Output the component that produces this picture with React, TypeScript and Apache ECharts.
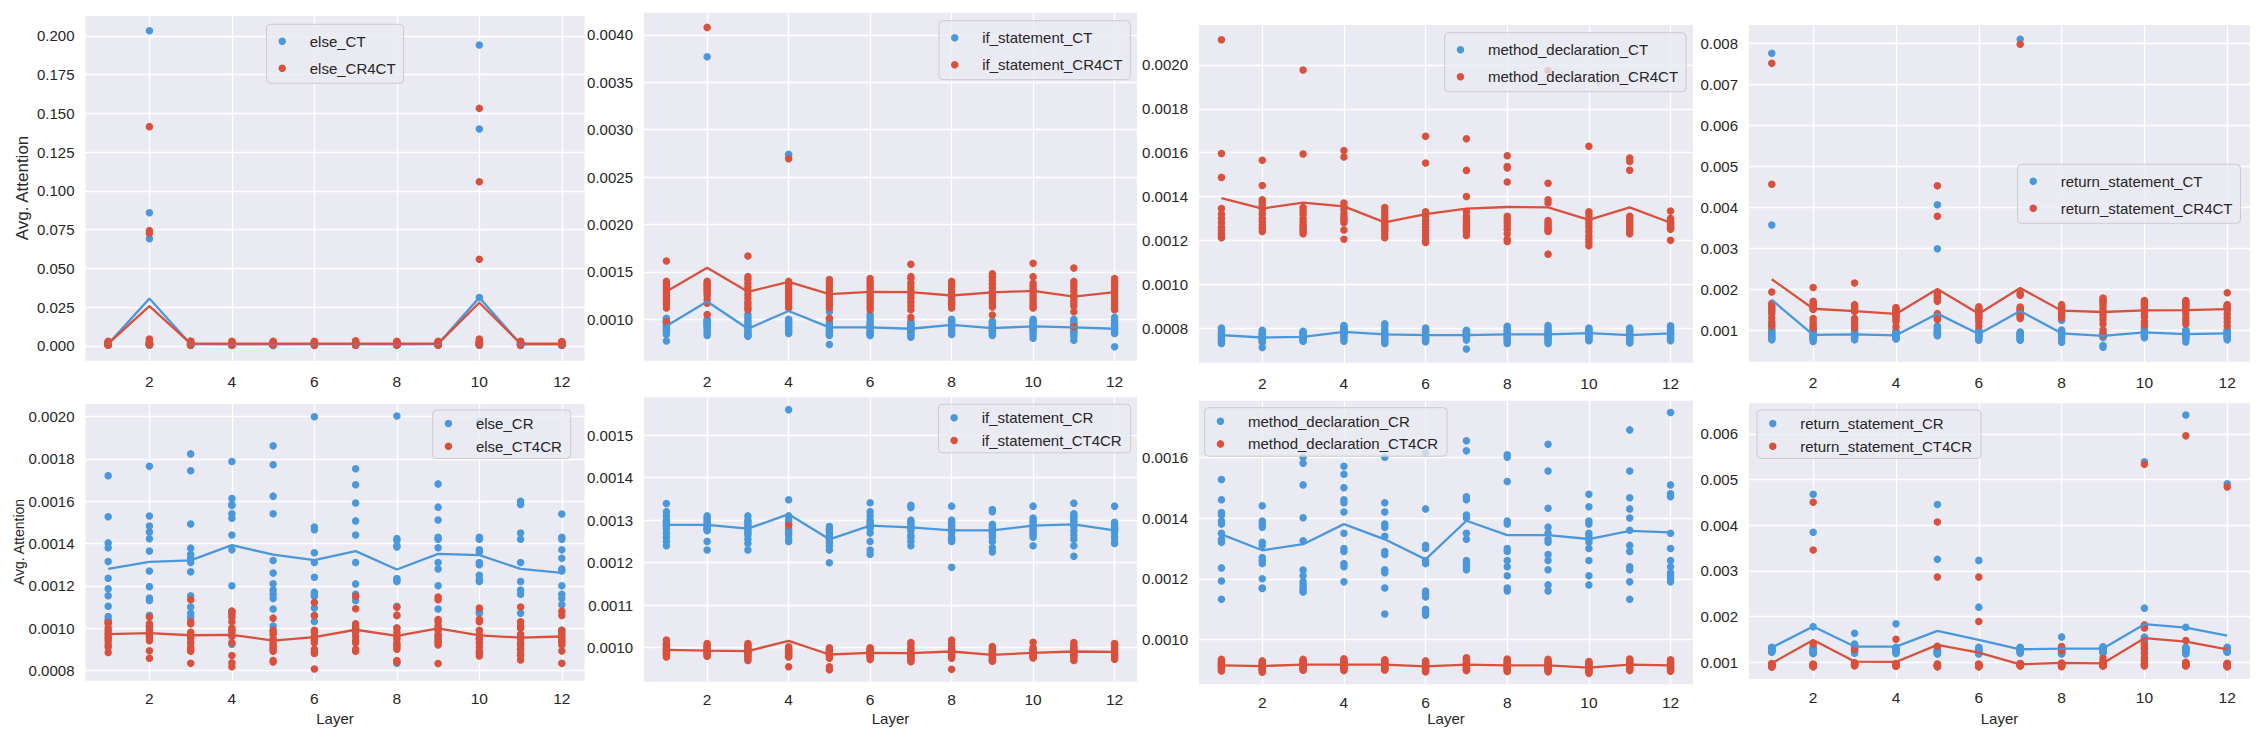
import React, { useEffect, useRef } from "react";
import * as echarts from "echarts";

// ---------------- DATA (values in units of 1e-6) ----------------
const U = 1e-6;
const LAYERS = [1, 2, 3, 4, 5, 6, 7, 8, 9, 10, 11, 12];
const X_TICKS = [2, 4, 6, 8, 10, 12];

const NAMES = [
  ["else_CT", "else_CR4CT"],
  ["if_statement_CT", "if_statement_CR4CT"],
  ["method_declaration_CT", "method_declaration_CR4CT"],
  ["return_statement_CT", "return_statement_CR4CT"],
  ["else_CR", "else_CT4CR"],
  ["if_statement_CR", "if_statement_CT4CR"],
  ["method_declaration_CR", "method_declaration_CT4CR"],
  ["return_statement_CR", "return_statement_CT4CR"],
];

// Panel 1: else CT / CR4CT
const elseCT = [
  [2600, 2100, 1800, 1500, 1300, 1100, 950, 850, 750, 650, 550, 450],
  [203400, 86000, 69200, 2000, 1500, 1200, 1000, 900, 800, 700, 600, 500],
  [2500, 2000, 1700, 1450, 1250, 1050, 900, 800, 700, 600, 500, 400],
  [2300, 1900, 1600, 1400, 1200, 1000, 900, 800, 700, 600, 500, 400],
  [2200, 1800, 1500, 1300, 1100, 900, 800, 700, 600, 500, 400, 300],
  [2400, 2000, 1700, 1400, 1200, 1000, 900, 800, 700, 600, 500, 400],
  [2500, 2000, 1700, 1450, 1250, 1050, 900, 800, 700, 600, 500, 400],
  [2400, 1950, 1650, 1400, 1200, 1000, 900, 800, 700, 600, 500, 400],
  [2600, 2100, 1800, 1500, 1300, 1100, 950, 850, 750, 650, 550, 450],
  [194200, 140000, 31200, 2000, 1500, 1200, 1000, 900, 800, 700, 600, 500],
  [2400, 2000, 1700, 1400, 1200, 1000, 900, 800, 700, 600, 500, 400],
  [2300, 1900, 1600, 1400, 1200, 1000, 900, 800, 700, 600, 500, 400],
];
const elseCR4CT = [
  [3000, 2500, 2100, 1800, 1600, 1400, 1200, 1000, 900, 800, 700, 600],
  [141500, 74400, 72700, 4500, 3500, 2800, 2200, 1800, 1500, 1200, 1000, 800],
  [3200, 2600, 2200, 1900, 1600, 1400, 1200, 1000, 900, 800, 700, 600],
  [3100, 2500, 2100, 1800, 1600, 1400, 1200, 1000, 900, 800, 700, 600],
  [3000, 2500, 2100, 1800, 1600, 1400, 1200, 1000, 900, 800, 700, 600],
  [3100, 2600, 2200, 1800, 1600, 1400, 1200, 1000, 900, 800, 700, 600],
  [3300, 2700, 2200, 1900, 1600, 1400, 1200, 1000, 900, 800, 700, 600],
  [3100, 2500, 2100, 1800, 1600, 1400, 1200, 1000, 900, 800, 700, 600],
  [3000, 2500, 2100, 1800, 1600, 1400, 1200, 1000, 900, 800, 700, 600],
  [153300, 106000, 55900, 4500, 3500, 2800, 2200, 1800, 1500, 1200, 1000, 800],
  [3000, 2500, 2100, 1800, 1600, 1400, 1200, 1000, 900, 800, 700, 600],
  [2900, 2400, 2000, 1700, 1500, 1300, 1100, 950, 850, 750, 650, 550],
];
const elseCTMean = [1200, 30600, 1150, 1100, 1000, 1150, 1150, 1100, 1200, 31200, 1100, 1100];
const elseCR4CTMean = [1500, 25700, 1550, 1500, 1500, 1500, 1550, 1500, 1500, 27900, 1500, 1450];

// Panel 2: if_statement CT / CR4CT
const ifCT = [
  [1010, 995, 980, 965, 950, 935, 920, 905, 890, 870, 840, 770],
  [3770, 1000, 990, 975, 960, 950, 940, 930, 910, 890, 860, 830],
  [1050, 1020, 990, 960, 940, 920, 900, 880, 860, 840, 830, 820],
  [2740, 1000, 985, 970, 955, 940, 925, 910, 895, 880, 865, 850],
  [1080, 1000, 970, 950, 930, 910, 890, 870, 850, 840, 830, 734],
  [1050, 1020, 990, 960, 940, 920, 900, 880, 860, 850, 840, 830],
  [980, 960, 945, 930, 915, 900, 890, 880, 870, 850, 830, 810],
  [1000, 990, 975, 960, 950, 940, 930, 920, 900, 880, 860, 840],
  [980, 965, 950, 935, 920, 905, 895, 885, 870, 855, 840, 830],
  [1000, 985, 970, 955, 940, 925, 910, 895, 880, 860, 830, 800],
  [1000, 975, 955, 940, 925, 910, 895, 880, 865, 850, 820, 780],
  [1020, 990, 970, 950, 935, 920, 905, 890, 875, 860, 850, 710],
];
const ifCR4CT = [
  [1615, 1400, 1370, 1340, 1310, 1280, 1250, 1220, 1190, 1160, 1120, 975],
  [4080, 1400, 1380, 1360, 1340, 1320, 1300, 1280, 1250, 1210, 1170, 1050],
  [1668, 1450, 1420, 1380, 1340, 1300, 1260, 1220, 1180, 1150, 1120, 1100],
  [2694, 1400, 1380, 1350, 1320, 1290, 1260, 1230, 1200, 1170, 1140, 1120],
  [1420, 1390, 1360, 1330, 1300, 1270, 1240, 1210, 1180, 1150, 1120, 1010],
  [1430, 1400, 1370, 1340, 1310, 1280, 1250, 1220, 1190, 1160, 1130, 1100],
  [1580, 1450, 1430, 1380, 1340, 1300, 1260, 1220, 1180, 1140, 1100, 1020],
  [1400, 1370, 1340, 1310, 1280, 1250, 1230, 1210, 1190, 1170, 1150, 1120],
  [1480, 1450, 1410, 1370, 1330, 1290, 1250, 1220, 1190, 1160, 1130, 1046],
  [1590, 1450, 1380, 1350, 1320, 1290, 1260, 1230, 1200, 1170, 1140, 1120],
  [1540, 1400, 1370, 1340, 1300, 1260, 1230, 1200, 1170, 1140, 1080, 920],
  [1430, 1400, 1370, 1340, 1310, 1280, 1250, 1220, 1190, 1160, 1130, 1100],
];
const ifCTMean = [929, 1187, 900, 1088, 915, 915, 900, 940, 907, 925, 915, 900];
const ifCR4CTMean = [1294, 1543, 1290, 1394, 1266, 1290, 1287, 1251, 1283, 1300, 1240, 1287];

// Panel 3: method_declaration CT / CR4CT
const mdCT = [
  [800, 795, 785, 775, 770, 765, 760, 755, 750, 745, 740, 730],
  [790, 780, 775, 770, 765, 760, 755, 750, 745, 740, 735, 711],
  [785, 780, 775, 770, 765, 760, 755, 750, 748, 745, 742, 740],
  [812, 805, 800, 795, 790, 785, 780, 775, 770, 760, 750, 740],
  [820, 810, 795, 785, 778, 770, 765, 760, 752, 745, 738, 730],
  [800, 795, 788, 780, 772, 766, 760, 755, 750, 746, 742, 738],
  [790, 785, 780, 776, 772, 770, 767, 763, 760, 755, 745, 704],
  [808, 800, 792, 785, 778, 771, 765, 760, 754, 748, 740, 730],
  [812, 800, 790, 783, 776, 770, 764, 758, 752, 745, 738, 730],
  [800, 795, 790, 784, 778, 773, 768, 763, 758, 752, 746, 742],
  [800, 792, 785, 778, 771, 765, 759, 754, 749, 744, 738, 732],
  [810, 803, 796, 789, 782, 776, 770, 765, 760, 755, 748, 742],
];
const mdCR4CT = [
  [2115, 1596, 1487, 1345, 1320, 1300, 1280, 1260, 1245, 1230, 1220, 1212],
  [1565, 1450, 1385, 1375, 1360, 1340, 1320, 1300, 1285, 1270, 1255, 1240],
  [1977, 1594, 1350, 1335, 1320, 1300, 1285, 1270, 1260, 1250, 1240, 1230],
  [1610, 1580, 1370, 1355, 1340, 1320, 1305, 1290, 1280, 1247, 1205, 1300],
  [1350, 1335, 1320, 1305, 1290, 1280, 1270, 1260, 1250, 1240, 1225, 1212],
  [1675, 1553, 1330, 1310, 1290, 1275, 1260, 1245, 1230, 1215, 1200, 1190],
  [1663, 1519, 1400, 1330, 1310, 1295, 1280, 1270, 1260, 1250, 1240, 1222],
  [1586, 1537, 1530, 1466, 1310, 1295, 1280, 1265, 1250, 1230, 1205, 1195],
  [1973, 1460, 1385, 1370, 1290, 1280, 1270, 1262, 1255, 1245, 1240, 1137],
  [1629, 1330, 1320, 1305, 1290, 1275, 1260, 1240, 1220, 1205, 1190, 1175],
  [1575, 1560, 1520, 1310, 1300, 1290, 1280, 1270, 1260, 1250, 1240, 1230],
  [1334, 1300, 1290, 1285, 1280, 1275, 1270, 1265, 1260, 1255, 1250, 1200],
];
const mdCTMean = [768, 757, 760, 783, 771, 768, 768, 771, 771, 777, 768, 776];
const mdCR4CTMean = [1393, 1345, 1372, 1355, 1282, 1320, 1345, 1352, 1350, 1293, 1350, 1280];

// Panel 4: return_statement CT / CR4CT
const rsCT = [
  [7755, 3563, 1150, 1050, 1000, 950, 920, 880, 850, 820, 790, 760],
  [1050, 1000, 960, 930, 900, 880, 860, 840, 820, 800, 770, 720],
  [1000, 970, 950, 930, 910, 890, 870, 850, 830, 810, 790, 760],
  [980, 960, 940, 920, 900, 880, 860, 840, 820, 810, 800, 780],
  [4059, 2985, 1100, 1060, 1020, 990, 960, 940, 920, 900, 880, 860],
  [1000, 980, 960, 940, 920, 900, 880, 860, 840, 820, 790, 750],
  [8097, 950, 930, 910, 890, 870, 850, 830, 810, 790, 770, 750],
  [1240, 1000, 970, 950, 930, 910, 890, 870, 850, 830, 790, 700],
  [920, 910, 900, 890, 880, 870, 860, 850, 840, 820, 620, 580],
  [1080, 1050, 1020, 990, 960, 940, 920, 900, 880, 860, 840, 810],
  [1000, 980, 960, 940, 920, 900, 880, 860, 840, 820, 790, 710],
  [1000, 985, 965, 945, 925, 905, 885, 865, 845, 825, 800, 760],
];
const rsCR4CT = [
  [7510, 4557, 1930, 1650, 1600, 1550, 1500, 1450, 1400, 1300, 1200, 1100],
  [2040, 1700, 1650, 1620, 1590, 1560, 1530, 1500, 1280, 1200, 1120, 1050],
  [2150, 1620, 1590, 1560, 1530, 1500, 1470, 1450, 1280, 1200, 1120, 1050],
  [1550, 1520, 1490, 1460, 1430, 1400, 1370, 1340, 1300, 1250, 1200, 1080],
  [4523, 3776, 1900, 1850, 1800, 1750, 1700, 1400, 1350, 1300, 1280, 1260],
  [1570, 1540, 1510, 1480, 1450, 1420, 1390, 1360, 1320, 1280, 1200, 1100],
  [7975, 1900, 1850, 1560, 1530, 1500, 1470, 1440, 1400, 1360, 1320, 1280],
  [1620, 1590, 1560, 1530, 1500, 1470, 1440, 1410, 1380, 1350, 1320, 1300],
  [1780, 1740, 1700, 1650, 1580, 1500, 1420, 1340, 1250, 1150, 1000, 880],
  [1720, 1690, 1660, 1630, 1600, 1560, 1520, 1480, 1400, 1320, 1200, 1120],
  [1720, 1690, 1660, 1630, 1590, 1550, 1510, 1470, 1400, 1300, 1220, 1150],
  [1910, 1620, 1600, 1580, 1560, 1540, 1520, 1500, 1400, 1300, 1200, 1100],
];
const rsCTMean = [1736, 880, 896, 872, 1400, 904, 1464, 920, 856, 944, 900, 920];
const rsCR4CTMean = [2240, 1520, 1464, 1392, 2000, 1400, 2024, 1472, 1440, 1480, 1488, 1512];

// Panel 5: else CR / CT4CR
const elseCR = [
  [1721, 1527, 1403, 1380, 1315, 1236, 1186, 1153, 1103, 1055, 1040, 1030],
  [1765, 1530, 1483, 1455, 1423, 1364, 1270, 1196, 1142, 1130, 1060, 1010],
  [1824, 1744, 1492, 1378, 1348, 1330, 1310, 1266, 1153, 1100, 1070, 1050],
  [1788, 1613, 1584, 1541, 1520, 1580, 1440, 1370, 1200, 1080, 1060, 924],
  [1862, 1773, 1624, 1541, 1320, 1260, 1210, 1180, 1160, 1140, 1090, 1010],
  [2000, 1478, 1465, 1356, 1310, 1240, 1170, 1160, 1095, 1060, 1031, 1150],
  [1754, 1678, 1592, 1507, 1440, 1310, 1209, 1160, 1150, 1130, 1000, 980],
  [2003, 1423, 1415, 1390, 1384, 1234, 1226, 1220, 1103, 1060, 1000, 833],
  [1682, 1572, 1511, 1430, 1420, 1380, 1310, 1280, 1200, 1090, 1000, 950],
  [1976, 1430, 1420, 1370, 1360, 1310, 1300, 1250, 1230, 1220, 1080, 1070],
  [1600, 1585, 1450, 1420, 1310, 1220, 1180, 1160, 1070, 1000, 970, 950],
  [1540, 1430, 1420, 1370, 1330, 1270, 1200, 1160, 1140, 1110, 990, 1280],
];
const elseCT4CR = [
  [1026, 1020, 1000, 990, 970, 950, 936, 920, 909, 884, 955, 975],
  [1052, 1020, 1010, 1000, 990, 970, 960, 950, 940, 893, 857, 980],
  [1134, 1030, 1020, 980, 960, 950, 930, 910, 900, 890, 833, 970],
  [1079, 1070, 1050, 1030, 1000, 980, 960, 930, 870, 836, 817, 990],
  [1047, 990, 980, 970, 950, 930, 910, 900, 890, 846, 840, 920],
  [1121, 1058, 990, 980, 960, 940, 930, 900, 890, 880, 806, 950],
  [1150, 1091, 1020, 1010, 1000, 980, 960, 940, 930, 900, 890, 990],
  [1098, 1060, 1000, 980, 960, 920, 910, 900, 846, 840, 950, 930],
  [1147, 1134, 1040, 1030, 1010, 990, 960, 940, 930, 920, 832, 970],
  [1095, 1040, 1030, 990, 970, 950, 930, 910, 890, 880, 868, 950],
  [1100, 1030, 1010, 1000, 970, 950, 920, 900, 880, 870, 849, 930],
  [1079, 1060, 990, 970, 950, 940, 930, 920, 892, 833, 960, 980],
];
const elseCRMean = [1280, 1313, 1320, 1392, 1347, 1321, 1364, 1277, 1351, 1345, 1280, 1261];
const elseCT4CRMean = [971, 976, 966, 968, 941, 957, 992, 963, 998, 965, 955, 960];

// Panel 6: if_statement CR / CT4CR
const ifCR = [
  [1339, 1320, 1310, 1300, 1295, 1290, 1285, 1280, 1270, 1260, 1250, 1240],
  [1310, 1305, 1300, 1295, 1290, 1285, 1282, 1280, 1278, 1275, 1250, 1230],
  [1310, 1300, 1295, 1290, 1285, 1280, 1275, 1270, 1265, 1255, 1245, 1230],
  [1560, 1348, 1310, 1300, 1295, 1290, 1280, 1275, 1270, 1265, 1255, 1250],
  [1285, 1280, 1275, 1270, 1265, 1260, 1255, 1250, 1245, 1240, 1230, 1200],
  [1341, 1320, 1310, 1300, 1295, 1290, 1285, 1280, 1270, 1250, 1230, 1220],
  [1335, 1330, 1300, 1295, 1290, 1285, 1280, 1275, 1265, 1260, 1250, 1240],
  [1333, 1300, 1295, 1290, 1285, 1280, 1275, 1270, 1260, 1255, 1250, 1189],
  [1325, 1320, 1290, 1285, 1280, 1275, 1270, 1265, 1260, 1250, 1235, 1225],
  [1333, 1305, 1300, 1295, 1290, 1285, 1280, 1275, 1270, 1265, 1260, 1240],
  [1340, 1315, 1310, 1305, 1300, 1295, 1285, 1275, 1265, 1255, 1240, 1215],
  [1333, 1295, 1290, 1285, 1282, 1280, 1278, 1275, 1270, 1260, 1250, 1245],
];
const ifCT4CR = [
  [1018, 1010, 1005, 1000, 998, 995, 992, 990, 988, 985, 982, 978],
  [1010, 1005, 1002, 1000, 997, 994, 992, 990, 988, 985, 982, 980],
  [1010, 1006, 1002, 998, 995, 992, 990, 987, 984, 980, 975, 970],
  [1288, 1002, 998, 995, 992, 990, 988, 985, 983, 980, 978, 955],
  [1000, 995, 992, 990, 988, 986, 984, 982, 980, 975, 955, 948],
  [1000, 998, 995, 992, 990, 988, 986, 984, 982, 980, 977, 972],
  [1012, 1008, 1000, 995, 990, 986, 982, 979, 976, 973, 970, 967],
  [1018, 1010, 1002, 998, 995, 992, 990, 987, 984, 980, 975, 949],
  [1003, 997, 993, 990, 987, 984, 981, 978, 975, 972, 970, 968],
  [1013, 1000, 996, 993, 990, 988, 986, 984, 982, 980, 978, 976],
  [1012, 1006, 1001, 997, 994, 991, 988, 985, 982, 979, 975, 970],
  [1010, 1007, 1003, 998, 994, 990, 987, 984, 981, 978, 975, 973],
];
const ifCRMean = [1289, 1289, 1280, 1314, 1255, 1287, 1283, 1276, 1276, 1287, 1290, 1276];
const ifCT4CRMean = [995, 993, 992, 1016, 984, 988, 987, 991, 983, 988, 991, 990];

// Panel 7: method_declaration CR / CT4CR
const mdCR = [
  [1527, 1460, 1418, 1410, 1390, 1380, 1350, 1330, 1320, 1236, 1193, 1133],
  [1440, 1390, 1380, 1370, 1320, 1310, 1270, 1260, 1250, 1200, 1170, 1168],
  [1600, 1580, 1509, 1401, 1325, 1229, 1210, 1190, 1180, 1170, 1160, 1157],
  [1570, 1544, 1500, 1460, 1450, 1420, 1350, 1300, 1290, 1250, 1240, 1190],
  [1600, 1450, 1420, 1380, 1370, 1340, 1290, 1280, 1230, 1220, 1170, 1084],
  [1615, 1430, 1310, 1300, 1260, 1250, 1160, 1150, 1140, 1100, 1090, 1080],
  [1654, 1621, 1470, 1460, 1410, 1400, 1350, 1330, 1260, 1250, 1240, 1230],
  [1608, 1600, 1520, 1390, 1380, 1300, 1290, 1260, 1240, 1210, 1170, 1160],
  [1643, 1555, 1432, 1370, 1350, 1330, 1320, 1280, 1260, 1230, 1180, 1160],
  [1478, 1437, 1390, 1380, 1350, 1340, 1330, 1320, 1300, 1260, 1210, 1180],
  [1690, 1555, 1467, 1430, 1400, 1360, 1310, 1290, 1240, 1230, 1190, 1133],
  [1747, 1509, 1470, 1480, 1350, 1300, 1260, 1240, 1220, 1210, 1200, 1190],
];
const mdCT4CR = [
  [935, 930, 926, 922, 919, 916, 913, 910, 907, 904, 900, 897],
  [930, 926, 922, 918, 915, 912, 909, 906, 903, 900, 897, 893],
  [935, 931, 927, 923, 920, 917, 914, 911, 908, 905, 902, 899],
  [937, 932, 928, 924, 920, 917, 914, 911, 908, 905, 902, 898],
  [934, 930, 926, 923, 920, 917, 914, 911, 908, 905, 902, 900],
  [930, 926, 922, 918, 915, 912, 909, 906, 903, 900, 897, 894],
  [940, 935, 930, 925, 921, 917, 913, 910, 907, 904, 901, 898],
  [936, 931, 926, 922, 918, 915, 912, 909, 906, 903, 899, 895],
  [935, 930, 926, 922, 918, 915, 912, 909, 906, 902, 898, 894],
  [928, 924, 920, 916, 912, 909, 906, 903, 900, 897, 893, 889],
  [936, 932, 928, 924, 920, 917, 914, 911, 908, 905, 902, 898],
  [934, 930, 926, 922, 918, 915, 912, 909, 906, 903, 900, 896],
];
const mdCRMean = [1346, 1294, 1314, 1380, 1330, 1264, 1391, 1344, 1344, 1331, 1358, 1353];
const mdCT4CRMean = [915, 913, 918, 918, 918, 912, 918, 915, 915, 908, 918, 915];

// Panel 8: return_statement CR / CT4CR
const rsCR = [
  [1330, 1320, 1310, 1300, 1290, 1280, 1270, 1260, 1250, 1240, 1230, 1220],
  [4680, 3846, 1780, 1330, 1300, 1280, 1260, 1240, 1220, 1210, 1200, 1190],
  [1636, 1400, 1380, 1360, 1340, 1320, 1300, 1280, 1260, 1240, 1220, 1200],
  [1841, 1330, 1310, 1300, 1290, 1280, 1270, 1260, 1250, 1230, 1210, 1190],
  [4453, 3253, 1330, 1300, 1280, 1260, 1240, 1220, 1210, 1200, 1190, 1180],
  [3231, 2207, 1330, 1300, 1280, 1260, 1240, 1220, 1210, 1200, 1190, 1180],
  [1330, 1320, 1310, 1300, 1290, 1280, 1270, 1260, 1250, 1240, 1220, 1200],
  [1556, 1320, 1310, 1300, 1290, 1280, 1260, 1240, 1220, 1200, 1190, 1180],
  [1340, 1330, 1320, 1310, 1300, 1290, 1280, 1270, 1260, 1240, 1220, 1200],
  [5391, 2185, 1550, 1530, 1500, 1470, 1440, 1400, 1350, 1300, 1250, 1200],
  [6413, 1768, 1330, 1310, 1300, 1290, 1280, 1270, 1250, 1230, 1200, 1180],
  [4906, 1330, 1320, 1300, 1290, 1280, 1270, 1260, 1250, 1240, 1230, 1220],
];
const rsCT4CR = [
  [975, 965, 955, 945, 935, 925, 920, 915, 910, 905, 900, 895],
  [4504, 3458, 1400, 960, 950, 940, 935, 930, 925, 920, 910, 900],
  [1285, 990, 980, 970, 960, 955, 950, 945, 940, 935, 930, 925],
  [1505, 975, 965, 955, 950, 945, 940, 935, 930, 925, 920, 915],
  [4072, 2865, 1350, 960, 950, 940, 935, 930, 925, 920, 910, 900],
  [2865, 1892, 960, 950, 945, 940, 935, 930, 925, 920, 910, 900],
  [975, 970, 965, 960, 955, 950, 945, 940, 935, 930, 925, 920],
  [1344, 1250, 985, 975, 965, 955, 945, 935, 925, 915, 910, 905],
  [1088, 1020, 985, 975, 965, 955, 945, 940, 935, 930, 925, 920],
  [5333, 1819, 1750, 1400, 1300, 1200, 1100, 1050, 1000, 960, 940, 920],
  [5957, 1475, 1000, 980, 970, 960, 950, 945, 940, 935, 930, 920],
  [4840, 980, 970, 960, 950, 945, 940, 935, 930, 920, 910, 900],
];
const rsCRMean = [1322, 1783, 1344, 1344, 1688, 1490, 1285, 1300, 1300, 1834, 1761, 1585];
const rsCT4CRMean = [978, 1490, 1015, 1007, 1380, 1212, 956, 985, 978, 1527, 1454, 1285];

// Y axis ticks (labels) per panel
const Y_TICKS = [
  [0, 0.025, 0.05, 0.075, 0.1, 0.125, 0.15, 0.175, 0.2],
  [0.001, 0.0015, 0.002, 0.0025, 0.003, 0.0035, 0.004],
  [0.0008, 0.001, 0.0012, 0.0014, 0.0016, 0.0018, 0.002],
  [0.001, 0.002, 0.003, 0.004, 0.005, 0.006, 0.007, 0.008],
  [0.0008, 0.001, 0.0012, 0.0014, 0.0016, 0.0018, 0.002],
  [0.001, 0.0011, 0.0012, 0.0013, 0.0014, 0.0015],
  [0.001, 0.0012, 0.0014, 0.0016],
  [0.001, 0.002, 0.003, 0.004, 0.005, 0.006],
];
const Y_DEC = [3, 4, 4, 3, 4, 4, 4, 3];
const Y_RANGE = [
  [-0.0095, 0.2129],
  [0.000563, 0.004235],
  [0.000642, 0.002182],
  [0.000227, 0.008446],
  [0.000751, 0.00206],
  [0.00092, 0.001589],
  [0.000853, 0.001786],
  [0.000634, 0.00667],
];

const CT_DATA = [elseCT, ifCT, mdCT, rsCT, elseCR, ifCR, mdCR, rsCR];
const CR_DATA = [elseCR4CT, ifCR4CT, mdCR4CT, rsCR4CT, elseCT4CR, ifCT4CR, mdCT4CR, rsCT4CR];
const CT_MEAN = [elseCTMean, ifCTMean, mdCTMean, rsCTMean, elseCRMean, ifCRMean, mdCRMean, rsCRMean];
const CR_MEAN = [elseCR4CTMean, ifCR4CTMean, mdCR4CTMean, rsCR4CTMean, elseCT4CRMean, ifCT4CRMean, mdCT4CRMean, rsCT4CRMean];

// ---------------- LAYOUT / STYLE ----------------
const BLUE = "#4A98DB";
const RED = "#D9513D";
const BG = "#EAEAF2";
const TXT = "#262626";
const FONT = "'Liberation Sans', Arial, sans-serif";

const GRIDS = [
  { left: 85.5, top: 16, width: 499, height: 344.7 },
  { left: 644, top: 12.7, width: 493, height: 348 },
  { left: 1199, top: 25, width: 494, height: 337.7 },
  { left: 1749, top: 25, width: 501, height: 336.7 },
  { left: 85.5, top: 404, width: 499, height: 276.7 },
  { left: 644, top: 397.3, width: 493, height: 284.4 },
  { left: 1199, top: 400.7, width: 494, height: 283.6 },
  { left: 1749, top: 403.3, width: 501, height: 275.7 },
];
const LEGENDS = [
  { left: 266.5, top: 24.3 },
  { left: 939, top: 20.7 },
  { left: 1444.7, top: 32.7 },
  { left: 2017.5, top: 164.3 },
  { left: 432.7, top: 410 },
  { left: 938.4, top: 404.3 },
  { left: 1204.7, top: 407.7 },
  { left: 1757, top: 410 },
];

function toPoints(vals: number[][]) {
  const out: number[][] = [];
  vals.forEach((arr, i) => arr.forEach((v) => out.push([LAYERS[i], v * U])));
  return out;
}
function toLine(vals: number[]) {
  return vals.map((v, i) => [LAYERS[i], v * U]);
}

function buildOption() {
  const grid: any[] = [];
  const xAxis: any[] = [];
  const yAxis: any[] = [];
  const legend: any[] = [];
  const series: any[] = [];
  const graphic: any[] = [];

  for (let i = 0; i < 8; i++) {
    const top = i < 4;
    grid.push({ ...GRIDS[i], backgroundColor: BG, show: true, borderWidth: 0, containLabel: false, outerBoundsMode: "none" });
    xAxis.push({
      type: "value",
      gridIndex: i,
      min: 0.45,
      max: 12.55,
      axisLine: { show: false },
      axisTick: { show: false, customValues: X_TICKS },
      axisLabel: {
        customValues: X_TICKS,
        color: TXT,
        fontSize: 15.5,
        fontFamily: FONT,
        margin: top ? 13 : 10,
        formatter: (v: number) => String(v),
      },
      splitLine: { show: true, lineStyle: { color: "#ffffff", width: 1.3 } },
    });
    const dec = Y_DEC[i];
    yAxis.push({
      type: "value",
      gridIndex: i,
      min: Y_RANGE[i][0],
      max: Y_RANGE[i][1],
      axisLine: { show: false },
      axisTick: { show: false, customValues: Y_TICKS[i] },
      axisLabel: {
        customValues: Y_TICKS[i],
        color: TXT,
        fontSize: 15,
        fontFamily: FONT,
        margin: 11,
        formatter: (v: number) => v.toFixed(dec),
      },
      splitLine: { show: true, lineStyle: { color: "#ffffff", width: 1.3 } },
    });
    legend.push({
      left: LEGENDS[i].left,
      top: LEGENDS[i].top,
      orient: "vertical",
      data: NAMES[i],
      icon: "circle",
      itemWidth: 16,
      itemHeight: 7.5,
      itemGap: top ? 9 : 4.7,
      padding: top ? [8, 8, 6, 12] : [4.5, 9, 3.3, 12],
      backgroundColor: "rgba(234,234,242,0.8)",
      borderColor: "#cccccc",
      borderWidth: 1,
      borderRadius: 4,
      selectedMode: false,
      textStyle: {
        color: TXT,
        fontSize: 15,
        lineHeight: 18,
        fontFamily: FONT,
        padding: [0, 0, 0, 14.5],
      },
    });
    series.push({
      type: "scatter",
      name: NAMES[i][0],
      xAxisIndex: i,
      yAxisIndex: i,
      data: toPoints(CT_DATA[i]),
      symbolSize: 7.5,
      itemStyle: { color: BLUE, opacity: 1 },
      silent: true,
      z: 2,
    });
    series.push({
      type: "scatter",
      name: NAMES[i][1],
      xAxisIndex: i,
      yAxisIndex: i,
      data: toPoints(CR_DATA[i]),
      symbolSize: 7.5,
      itemStyle: { color: RED, opacity: 1 },
      silent: true,
      z: 3,
    });
    series.push({
      type: "line",
      name: NAMES[i][0] + " mean",
      xAxisIndex: i,
      yAxisIndex: i,
      data: toLine(CT_MEAN[i]),
      showSymbol: false,
      symbol: "none",
      lineStyle: { color: BLUE, width: 2.3 },
      itemStyle: { color: BLUE },
      silent: true,
      z: 4,
    });
    series.push({
      type: "line",
      name: NAMES[i][1] + " mean",
      xAxisIndex: i,
      yAxisIndex: i,
      data: toLine(CR_MEAN[i]),
      showSymbol: false,
      symbol: "none",
      lineStyle: { color: RED, width: 2.3 },
      itemStyle: { color: RED },
      silent: true,
      z: 5,
    });
    if (!top) {
      const g = GRIDS[i];
      graphic.push({
        type: "text",
        x: g.left + g.width / 2,
        y: 718,
        style: { text: "Layer", fill: TXT, fontSize: 15, fontFamily: FONT, textAlign: "center", textVerticalAlign: "middle" },
      });
    }
  }
  graphic.push({
    type: "text",
    x: 22,
    y: 188,
    rotation: Math.PI / 2,
    style: { text: "Avg. Attention", fill: TXT, fontSize: 17, fontFamily: FONT, textAlign: "center", textVerticalAlign: "middle" },
  });
  graphic.push({
    type: "text",
    x: 19,
    y: 542,
    rotation: Math.PI / 2,
    style: { text: "Avg. Attention", fill: TXT, fontSize: 14, fontFamily: FONT, textAlign: "center", textVerticalAlign: "middle" },
  });

  return {
    animation: false,
    backgroundColor: "#ffffff",
    grid,
    xAxis,
    yAxis,
    legend,
    series,
    graphic,
  };
}

export default function App() {
  const ref = useRef<HTMLDivElement>(null);
  useEffect(() => {
    document.body.style.margin = "0";
    const chart = echarts.init(ref.current as HTMLDivElement, undefined, { renderer: "svg" });
    chart.setOption(buildOption() as any);
    return () => chart.dispose();
  }, []);
  return <div ref={ref} style={{ position: "absolute", left: 0, top: 0, width: 2268, height: 742 }} />;
}
